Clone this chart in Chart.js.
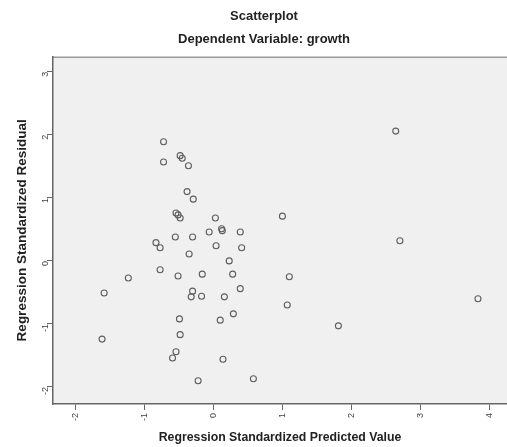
<!DOCTYPE html>
<html>
<head>
<meta charset="utf-8">
<title>Scatterplot</title>
<script src="https://cdn.jsdelivr.net/npm/chart.js@4/dist/chart.umd.min.js"></script>
<style>
  body { margin: 0; background: #fff; }
  canvas { display: block; }
</style>
</head>
<body>
<canvas id="scatter" width="507" height="447"></canvas>
<script>
// standardized predicted values (x) and standardized residuals (y)
const predicted = [
  -0.72, -0.72, -0.48, -0.45, -0.36, -0.38, -0.29, -0.54, -0.51, -0.48,
   0.03, -0.06,  0.12,  0.13,  0.39, -0.55, -0.30, -0.83, -0.77,  0.04,
   0.41, -0.35,  0.23, -0.77, -0.51, -0.16,  0.28, -1.23, -1.58,  0.39,
  -0.30, -0.32, -0.17,  0.16,  0.29,  0.10, -0.49, -0.48, -0.54, -0.59,
   0.14, -1.61, -0.22,  0.58,  1.00,  1.10,  1.07,  1.81,  2.64,  2.70,
   3.83
];
const residual = [
   1.89,  1.57,  1.67,  1.63,  1.51,  1.10,  0.98,  0.76,  0.73,  0.68,
   0.68,  0.46,  0.51,  0.48,  0.46,  0.38,  0.38,  0.29,  0.21,  0.24,
   0.21,  0.11,  0.00, -0.14, -0.24, -0.21, -0.21, -0.27, -0.51, -0.44,
  -0.48, -0.57, -0.56, -0.57, -0.84, -0.94, -0.92, -1.17, -1.44, -1.54,
  -1.56, -1.24, -1.90, -1.87,  0.71, -0.25, -0.70, -1.03,  2.06,  0.32,
  -0.60
];
const xTicks = [-2, -1, 0, 1, 2, 3, 4];
const yTicks = [-2, -1, 0, 1, 2, 3];

const points = predicted.map((x, i) => ({ x: x, y: residual[i] }));

const fontFamily = '"Liberation Sans", Arial, sans-serif';

// grey plot area with a thin top frame, like the SPSS chart
const plotBackground = {
    id: 'plotBackground',
    beforeDraw(chart) {
        const { ctx, chartArea: a } = chart;
        ctx.save();
        ctx.fillStyle = '#f0f0f0';
        ctx.fillRect(a.left, a.top, a.right - a.left, a.bottom - a.top);
        ctx.strokeStyle = '#9a9a9a';
        ctx.lineWidth = 1.5;
        ctx.beginPath();
        ctx.moveTo(a.left, a.top + 0.5);
        ctx.lineTo(a.right, a.top + 0.5);
        ctx.stroke();
        ctx.restore();
    }
};

function keepTicks(list) {
    return scale => {
        scale.ticks = list.map(v => ({ value: v }));
    };
}

new Chart(document.getElementById('scatter'), {
    type: 'scatter',
    data: {
        datasets: [{
            data: points,
            pointStyle: 'circle',
            pointRadius: 3,
            pointHoverRadius: 3,
            pointBorderWidth: 1.1,
            pointBorderColor: '#5e5e5e',
            pointBackgroundColor: 'rgba(0,0,0,0)'
        }]
    },
    options: {
        responsive: false,
        animation: false,
        layout: { autoPadding: false, padding: { left: 21, right: 0, top: 0, bottom: 0 } },
        plugins: {
            legend: { display: false },
            tooltip: { enabled: false },
            title: {
                display: true,
                text: 'Scatterplot',
                color: '#222',
                font: { family: fontFamily, size: 13, weight: 'bold' },
                padding: { top: 9, bottom: 4 }
            },
            subtitle: {
                display: true,
                text: 'Dependent Variable: growth',
                color: '#222',
                font: { family: fontFamily, size: 13, weight: 'bold' },
                padding: { top: 3.5, bottom: 9 }
            }
        },
        scales: {
            x: {
                type: 'linear',
                min: -2.32,
                max: 4.25,
                afterBuildTicks: keepTicks(xTicks),
                afterFit: s => { s.height = 43; s.paddingLeft = 0; s.paddingRight = 0; },
                border: { display: true, color: '#666', width: 1.5 },
                grid: { display: true, drawOnChartArea: false, tickLength: 6, color: '#666' },
                ticks: {
                    color: '#444',
                    font: { family: fontFamily, size: 9 },
                    minRotation: 90,
                    maxRotation: 90,
                    padding: 3
                },
                title: {
                    display: true,
                    text: 'Regression Standardized Predicted Value',
                    color: '#222',
                    font: { family: fontFamily, size: 12.3, weight: 'bold' },
                    padding: { top: 0, bottom: 1.6 }
                }
            },
            y: {
                type: 'linear',
                min: -2.27,
                max: 3.24,
                afterBuildTicks: keepTicks(yTicks),
                afterFit: s => { s.width = 32; s.paddingTop = 0; s.paddingBottom = 0; },
                border: { display: true, color: '#666', width: 1.5 },
                grid: { display: true, drawOnChartArea: false, tickLength: 6, color: '#666' },
                ticks: {
                    color: '#444',
                    font: { family: fontFamily, size: 9 },
                    minRotation: 90,
                    maxRotation: 90,
                    padding: 1
                },
                title: {
                    display: true,
                    text: 'Regression Standardized Residual',
                    color: '#222',
                    font: { family: fontFamily, size: 13.5, weight: 'bold' },
                    padding: { top: -7, bottom: 0 }
                }
            }
        }
    },
    plugins: [plotBackground]
});
</script>
</body>
</html>
